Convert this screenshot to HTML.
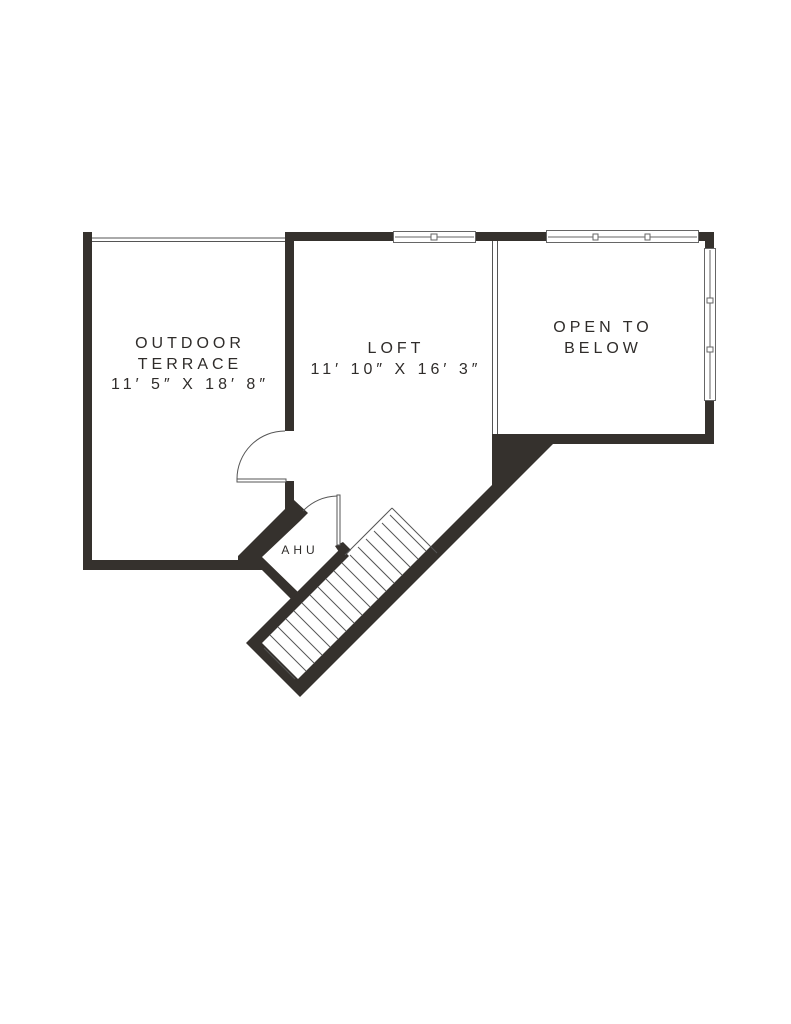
<!DOCTYPE html>
<html><head><meta charset="utf-8"><style>
html,body{margin:0;padding:0;background:#fff;}
svg{display:block;}
text{font-family:"Liberation Sans",sans-serif;fill:#2f2c2a;letter-spacing:4px;}
</style></head><body>
<svg width="791" height="1024" viewBox="0 0 791 1024" xmlns="http://www.w3.org/2000/svg">
<g fill="#35312d">
<rect x="83" y="232" width="9" height="338"/>
<rect x="83" y="560" width="170" height="10"/>
<rect x="285" y="232" width="9" height="199"/>
<rect x="285" y="481" width="9" height="22"/>
<rect x="285" y="232" width="429" height="9"/>
<rect x="705" y="232" width="9" height="212"/>
<polygon points="246,643 300,697 553,444 714,444 714,434 492,434 492,485 298,679 262,643 349,556 341,548"/>
<polygon points="285,500 294,500 308,513 300,521 262,557 298,592 292,600 262,570 238,570 238,556 285,509"/>
<polygon points="335,546 343,542 351,550 343,558"/>
</g>
<g fill="none" stroke="#555" stroke-width="1">
<line x1="92" y1="238" x2="285" y2="238"/>
<line x1="92" y1="241.5" x2="285" y2="241.5"/>
<line x1="492.5" y1="241" x2="492.5" y2="434"/>
<line x1="497.5" y1="241" x2="497.5" y2="434"/>
<rect x="237" y="479" width="49" height="3" fill="#fff"/>
<path d="M237,479 A48,48 0 0 1 285,431"/>
<rect x="337" y="495" width="3" height="50" fill="#fff"/>
<path d="M337,496 A48,48 0 0 0 303,511"/>
<line x1="345" y1="555" x2="392" y2="508"/>
<line x1="392" y1="508" x2="437" y2="553"/>
<line x1="264" y1="648" x2="295" y2="679"/>
</g>
<g stroke="#555" stroke-width="1">
<line x1="270" y1="635" x2="306" y2="671"/>
<line x1="278" y1="627" x2="314" y2="663"/>
<line x1="286" y1="619" x2="322" y2="655"/>
<line x1="294" y1="611" x2="330" y2="647"/>
<line x1="302" y1="603" x2="338" y2="639"/>
<line x1="310" y1="595" x2="346" y2="631"/>
<line x1="318" y1="587" x2="354" y2="623"/>
<line x1="326" y1="579" x2="362" y2="615"/>
<line x1="334" y1="571" x2="370" y2="607"/>
<line x1="342" y1="563" x2="378" y2="599"/>
<line x1="350" y1="555" x2="386" y2="591"/>
<line x1="358" y1="547" x2="394" y2="583"/>
<line x1="366" y1="539" x2="402" y2="575"/>
<line x1="374" y1="531" x2="410" y2="567"/>
<line x1="382" y1="523" x2="418" y2="559"/>
<line x1="390" y1="515" x2="426" y2="551"/>
</g>
<g fill="#fff" stroke="#666" stroke-width="1">
<rect x="393.5" y="231.5" width="82" height="11"/>
<line x1="395" y1="237" x2="474" y2="237"/>
<rect x="431" y="234" width="6" height="6"/>
<rect x="546.5" y="230.5" width="152" height="12"/>
<line x1="548" y1="237" x2="697" y2="237"/>
<rect x="593" y="234" width="5" height="6"/>
<rect x="645" y="234" width="5" height="6"/>
<rect x="704.5" y="248.5" width="11" height="152"/>
<line x1="710" y1="250" x2="710" y2="399"/>
<rect x="707" y="298" width="6" height="5"/>
<rect x="707" y="347" width="6" height="5"/>
</g>
<g font-size="16" text-anchor="middle">
<text x="190" y="348">OUTDOOR</text>
<text x="190" y="369">TERRACE</text>
<text x="190" y="389" letter-spacing="4.5">11′ 5″ X 18′ 8″</text>
<text x="396" y="353">LOFT</text>
<text x="396" y="374" letter-spacing="4.2">11′ 10″ X 16′ 3″</text>
<text x="603" y="332">OPEN TO</text>
<text x="603" y="353">BELOW</text>
<text x="300" y="554" font-size="12" letter-spacing="3">AHU</text>
</g>
</svg>
</body></html>
